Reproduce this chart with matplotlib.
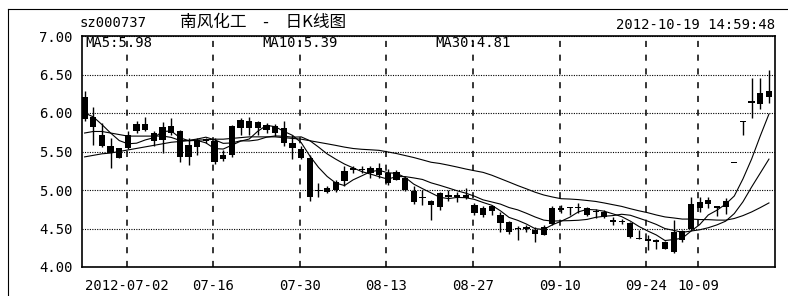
import matplotlib
matplotlib.use("Agg")
import matplotlib.pyplot as plt
from matplotlib.lines import Line2D
import numpy as np

# ---------------- data ----------------
# trading-day index: 0 = 2012-07-02, first candle is 2012-06-25 (index -5), last 2012-10-19 (index 74)
first_index = -5
tick_pos = [0, 10, 20, 30, 40, 50, 60, 66]
tick_labels = ["2012-07-02", "07-16", "07-30", "08-13", "08-27", "09-10", "09-24", "10-09"]

opens = [6.21, 5.95, 5.71, 5.57, 5.54, 5.55, 5.77, 5.86, 5.74, 5.65,
         5.83, 5.76, 5.43, 5.56, 5.64, 5.63, 5.45, 5.46, 5.80, 5.89,
         5.81, 5.84, 5.83, 5.80, 5.61, 5.53, 5.42, 4.99, 4.98, 5.00,
         5.12, 5.26, 5.27, 5.22, 5.29, 5.22, 5.13, 5.15, 4.99, 4.90,
         4.86, 4.78, 4.94, 4.91, 4.94, 4.81, 4.68, 4.79, 4.68, 4.59,
         4.49, 4.50, 4.48, 4.42, 4.56, 4.76, 4.76, 4.76, 4.76, 4.71,
         4.71, 4.59, 4.58, 4.57, 4.36, 4.34, 4.33, 4.32, 4.19, 4.35,
         4.49, 4.84, 4.82, 4.79, 4.78, 5.35, 5.89, 6.13, 6.12, 6.21]
highs = [6.29, 6.08, 5.87, 5.68, 5.55, 5.77, 5.89, 5.95, 5.76, 5.88,
         5.93, 5.78, 5.68, 5.68, 5.68, 5.68, 5.52, 5.85, 5.93, 5.95,
         5.90, 5.87, 5.86, 5.90, 5.71, 5.57, 5.45, 5.09, 5.05, 5.13,
         5.31, 5.31, 5.31, 5.31, 5.35, 5.27, 5.26, 5.17, 5.05, 5.00,
         4.87, 4.98, 5.00, 4.97, 5.02, 4.83, 4.79, 4.81, 4.72, 4.60,
         4.53, 4.55, 4.52, 4.55, 4.79, 4.81, 4.78, 4.83, 4.78, 4.75,
         4.74, 4.65, 4.62, 4.59, 4.48, 4.41, 4.37, 4.34, 4.61, 4.48,
         4.91, 4.91, 4.91, 4.79, 4.89, 5.35, 5.89, 6.45, 6.45, 6.56]
lows = [5.90, 5.58, 5.56, 5.29, 5.41, 5.53, 5.74, 5.76, 5.57, 5.48,
        5.71, 5.37, 5.32, 5.45, 5.61, 5.34, 5.38, 5.43, 5.71, 5.71,
        5.71, 5.74, 5.70, 5.57, 5.40, 5.40, 4.86, 4.91, 4.96, 4.98,
        5.05, 5.22, 5.22, 5.16, 5.15, 5.06, 5.13, 4.99, 4.82, 4.81,
        4.61, 4.74, 4.86, 4.84, 4.88, 4.68, 4.65, 4.68, 4.45, 4.43,
        4.35, 4.46, 4.33, 4.41, 4.55, 4.70, 4.68, 4.70, 4.66, 4.64,
        4.63, 4.55, 4.56, 4.38, 4.36, 4.22, 4.24, 4.24, 4.18, 4.33,
        4.48, 4.72, 4.76, 4.66, 4.69, 5.35, 5.72, 5.93, 6.05, 6.13]
closes = [5.92, 5.82, 5.57, 5.48, 5.42, 5.71, 5.86, 5.78, 5.63, 5.82,
          5.74, 5.43, 5.58, 5.65, 5.66, 5.37, 5.40, 5.83, 5.91, 5.80,
          5.88, 5.78, 5.74, 5.61, 5.54, 5.41, 4.91, 5.00, 5.02, 5.11,
          5.25, 5.28, 5.26, 5.29, 5.20, 5.09, 5.24, 5.00, 4.85, 4.91,
          4.81, 4.96, 4.91, 4.93, 4.89, 4.70, 4.76, 4.73, 4.57, 4.46,
          4.51, 4.52, 4.43, 4.52, 4.76, 4.74, 4.78, 4.78, 4.68, 4.73,
          4.65, 4.61, 4.60, 4.39, 4.38, 4.36, 4.35, 4.24, 4.45, 4.47,
          4.82, 4.77, 4.87, 4.76, 4.86, 5.35, 5.88, 6.16, 6.26, 6.28]

ma5_head = [6.00, 5.95, 5.85, 5.74]
ma10_head = [5.74, 5.76, 5.76, 5.74, 5.72, 5.70, 5.70, 5.70, 5.70]
ma30_head = [5.43, 5.45, 5.47, 5.48, 5.50, 5.52, 5.54, 5.56, 5.58, 5.60,
             5.62, 5.63, 5.64, 5.65, 5.65, 5.66, 5.66, 5.67, 5.68, 5.69,
             5.69, 5.69, 5.69, 5.68, 5.67, 5.66, 5.64, 5.62, 5.60]

ma_names = ["MA5", "MA10", "MA30"]
ma_last = [5.98, 5.39, 4.81]

code = "sz000737"
title = "南风化工\u3000-\u3000日K线图"
stamp = "2012-10-19 14:59:48"
y_ticks = [4.0, 4.5, 5.0, 5.5, 6.0, 6.5, 7.0]


def moving_average(vals, n, head):
    out = list(head)
    for j in range(len(head), len(vals)):
        out.append(float(np.mean(vals[j - n + 1:j + 1])))
    return np.array(out)


# ---------------- figure ----------------
W, H = 788, 296
fig = plt.figure(figsize=(W / 100, H / 100), dpi=100)
fig.patch.set_facecolor("white")

L, R, T, B = 82, 775, 36, 267
ax = fig.add_axes([L / W, 1 - B / H, (R - L) / W, (B - T) / H])
mono = "DejaVu Sans Mono"

x = np.arange(first_index, first_index + len(closes))
o = np.array(opens); c = np.array(closes)
hi = np.array(highs); lo = np.array(lows)

# wicks
ax.vlines(x, lo, hi, color="black", linewidth=1.0, zorder=3)
# bodies
bottom = np.minimum(o, c)
height = np.maximum(np.abs(c - o), 0.013)
ax.bar(x, height, bottom=bottom, width=0.72, color="black", linewidth=0, zorder=4)

# moving averages
for n, head in ((5, ma5_head), (10, ma10_head), (30, ma30_head)):
    ma = moving_average(c, n, head)
    ax.plot(x, ma, color="black", linewidth=0.8, zorder=2)

ax.set_xlim(first_index - 0.3, 74.7)
ax.set_ylim(4.0, 7.0)

ax.set_yticks(y_ticks)
ax.set_yticklabels([f"{v:.2f}" for v in y_ticks], fontfamily=mono, fontsize=10)
ax.set_xticks([p - 0.15 for p in tick_pos])
ax.set_xticklabels(tick_labels, fontfamily=mono, fontsize=10)
ax.tick_params(axis="both", length=0, colors="black")
ax.tick_params(axis="y", pad=6.5)
ax.tick_params(axis="x", pad=9)

ax.set_axisbelow(True)
ax.grid(True, axis="y", color="black", linestyle=(0, (1, 1.2)), linewidth=0.8)
ax.grid(True, axis="x", color="black", linestyle=(0, (4, 5)), linewidth=1.1)
for s in ax.spines.values():
    s.set_linewidth(1.2)
    s.set_color("black")

# MA labels inside plot
for name, val, px in zip(ma_names, ma_last, (85, 262, 435)):
    fig.text(px / W, 1 - 43 / H, f"{name}:{val:.2f}", fontfamily=mono, fontsize=10,
             ha="left", va="center", zorder=5)

# header texts
fig.text(80 / W, 1 - 23 / H, code, fontfamily=mono, fontsize=10, ha="left", va="center")
fig.text(263 / W, 1 - 22 / H, title, fontfamily=["Noto Sans CJK SC", "DejaVu Sans"],
         fontsize=12, ha="center", va="center")
fig.text(775 / W, 1 - 25 / H, stamp, fontfamily=mono, fontsize=10, ha="right", va="center")

# outer frame (top and left edges)
fig.add_artist(Line2D([8 / W, 1], [1 - 9 / H, 1 - 9 / H], color="black", linewidth=0.8,
                      transform=fig.transFigure))
fig.add_artist(Line2D([8 / W, 8 / W], [0, 1 - 9 / H], color="black", linewidth=0.8,
                      transform=fig.transFigure))

fig.savefig("out.png", dpi=100, facecolor="white")
